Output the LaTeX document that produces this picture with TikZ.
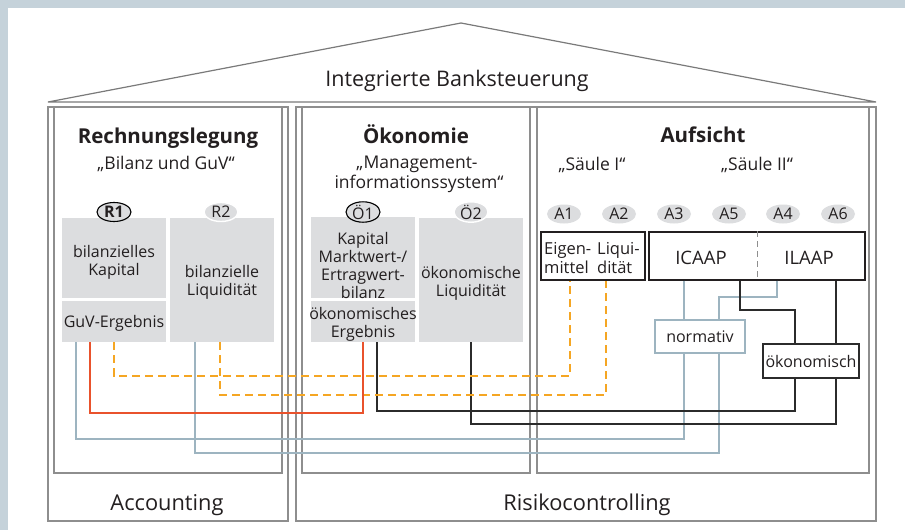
\documentclass[tikz,border=0pt]{standalone}
\usepackage{fontspec}
\setmainfont{Open Sans}
\usetikzlibrary{shapes.geometric}

\definecolor{bandblue}{HTML}{C5D2DA}
\definecolor{framegray}{HTML}{8E8E8E}
\definecolor{roofgray}{HTML}{7A7A7A}
\definecolor{boxgray}{HTML}{DCDDDF}
\definecolor{ink}{HTML}{231F20}
\definecolor{wireblue}{HTML}{9DB4C0}
\definecolor{wirered}{HTML}{E9522C}
\definecolor{wireorange}{HTML}{F5A623}
\definecolor{wireblack}{HTML}{2B2B2B}

\tikzset{
  frame/.style={draw=framegray, line width=1.3pt, minimum width=#1, inner sep=0pt},
  graybox/.style={fill=boxgray, minimum width=104pt, inner sep=0pt},
  boxtext/.style={text=ink, inner sep=0pt, align=center, font=\fontsize{16}{18}\selectfont},
  tag/.style={ellipse, fill=boxgray, minimum width=34pt, minimum height=19pt,
    inner sep=0pt, text=ink, font=\fontsize{16}{18}\selectfont},
  tagmark/.style={tag, draw=black, line width=1.1pt},
  tagplain/.style={tag, draw=white, line width=1.4pt},
  pillarbox/.style={draw=ink, line width=1.1pt, inner sep=0pt, minimum height=48pt},
  label/.style={text=ink, inner sep=0pt, font=\fontsize{16.5}{19}\selectfont},
  head/.style={text=ink, inner sep=0pt, anchor=base, font=\bfseries\fontsize{20.5}{22}\selectfont},
  sub/.style={text=ink, inner sep=0pt, anchor=base, align=center, font=\fontsize{17.5}{20}\selectfont},
  big/.style={text=ink, inner sep=0pt, anchor=base, font=\fontsize{21.8}{24}\selectfont},
  wblue/.style={draw=wireblue, line width=1.2pt},
  wblack/.style={draw=wireblack, line width=1.2pt},
  wred/.style={draw=wirered, line width=2.8pt},
  worange/.style={draw=wireorange, line width=1.5pt, dash pattern=on 8pt off 5pt},
}

\begin{document}
\begin{tikzpicture}[x=1pt, y=-1pt]
\useasboundingbox (0,0) rectangle (905,530);
\fill[bandblue] (0,0) rectangle (905,530);
\fill[white] (8,8) rectangle (905,530);

% roof
\coordinate (apex) at (461,23);
\coordinate (eaveL) at (48,102);
\coordinate (eaveR) at (876,102);
\draw[draw=roofgray, line width=1.2pt, line join=miter] (eaveL) -- (apex) -- (eaveR) -- cycle;
\node[big, font=\fontsize{21.5}{24}\selectfont] (title) at (457,86) {Integrierte Banksteuerung};

% outer and inner frames
\node[frame=240pt, minimum height=414pt] (accounting) at (168,314) {};
\node[frame=580pt, minimum height=414pt] (risiko) at (586,314) {};
\node[frame=228pt, minimum height=366pt] (rech) at (168,290) {};
\node[frame=228pt, minimum height=366pt] (oeko) at (416,290) {};
\node[frame=332pt, minimum height=366pt] (aufs) at (703,290) {};

\node[big] (acclabel) at (167,510) {Accounting};
\node[big] (risklabel) at (587,510) {Risikocontrolling};

% column headings
\node[head] (h1) at (168,143) {Rechnungslegung};
\node[sub] (s1) at (166,169) {„Bilanz und GuV“};
\node[head] (h2) at (416,143) {Ökonomie};
\node[sub] (s2a) at (417,168) {„Management-};
\node[sub] (s2b) at (419,188) {informationssystem“};
\node[head] (h3) at (703,142) {Aufsicht};
\node[sub] (s3a) at (592,170) {„Säule I“};
\node[sub] (s3b) at (757,170) {„Säule II“};

% accounting boxes
\node[graybox, minimum height=80pt] (r1) at (114,258) {};
\node[graybox, minimum height=41pt] (guv) at (114,321.5) {};
\node[graybox, minimum height=124pt] (r2) at (222,280) {};
\node[boxtext] (r1text) at (r1.center |- 0,262) {bilanzielles\\Kapital};
\node[boxtext] (guvtext) at (guv.center |- 0,323) {GuV-Ergebnis};
\node[boxtext] (r2text) at (r2.center |- 0,282) {bilanzielle\\Liquidität};
\node[tagmark, font=\bfseries\fontsize{16}{18}\selectfont] (tr1) at (114,212) {R1};
\node[tagplain] (tr2) at (221,212) {R2};

% economic boxes
\node[graybox, minimum height=81pt] (o1) at (363,257.5) {};
\node[graybox, minimum height=41pt] (oerg) at (363,321.5) {};
\node[graybox, minimum height=124pt] (o2) at (471,280) {};
\node[boxtext] (o1text) at (o1.center |- 0,265) {Kapital\\Marktwert-/\\Ertragwert-\\bilanz};
\node[boxtext] (oergtext) at (oerg.center |- 0,324) {ökonomisches\\Ergebnis};
\node[boxtext] (o2text) at (o2.center |- 0,283) {ökonomische\\Liquidität};
\node[tagmark] (to1) at (363,212) {Ö1};
\node[tagplain] (to2) at (471,212) {Ö2};

% supervisory tags
\node[tag] (ta1) at (564,214) {A1};
\node[tag] (ta2) at (619,214) {A2};
\node[tag] (ta3) at (674,214) {A3};
\node[tag] (ta5) at (729,214) {A5};
\node[tag] (ta4) at (783,214) {A4};
\node[tag] (ta6) at (838,214) {A6};

% pillar I and pillar II boxes
\node[pillarbox, minimum width=104pt] (eig) at (593,256) {};
\node[label, align=left, anchor=west] (eigtext) at (544,258) {Eigen-\\mittel};
\node[label, align=left, anchor=west] (liqtext) at (597,258) {Liqui-\\dität};
\node[pillarbox, minimum width=216pt] (pillar) at (757,256) {};
\draw[draw=framegray, line width=1pt, dash pattern=on 6pt off 4pt]
  (pillar.north -| 757,0) -- (pillar.south -| 757,0);
\node[label, font=\fontsize{18.5}{20}\selectfont] (icaap) at (701,258) {ICAAP};
\node[label, font=\fontsize{18.5}{20}\selectfont] (ilaap) at (809,258) {ILAAP};

\node[draw=wireblue, line width=1.2pt, fill=white, minimum width=90pt, minimum height=33pt,
  inner sep=0pt, text=ink, font=\fontsize{16}{18}\selectfont] (normativ) at (700,336.5) {normativ};
\node[draw=wireblack, line width=1.2pt, fill=white, minimum width=96pt, minimum height=34pt,
  inner sep=0pt, text=ink, font=\fontsize{16}{18}\selectfont] (oekon) at (811,361) {ökonomisch};

% connectors
\draw[wblue] (guv.south -| 76,0) -- (76,439) -| (normativ.south -| 684,0);
\draw[wblue] (r2.south -| 195,0) -- (195,453) -| (normativ.south -| 719,0);
\draw[wblue] (pillar.south -| 684,0) -- (normativ.north -| 684,0);
\draw[wblue] (pillar.south -| 777,0) -- (777,297) -| (normativ.north -| 719,0);
\draw[wblack] (oerg.south -| 377,0) -- (377,411) -| (oekon.south -| 795,0);
\draw[wblack] (o2.south -| 471,0) -- (471,424) -| (oekon.south -| 836,0);
\draw[wblack] (pillar.south -| 740,0) -- (740,310) -| (oekon.north -| 795,0);
\draw[wblack] (pillar.south -| 836,0) -- (oekon.north -| 836,0);
\draw[worange] (guv.south -| 114,0) -- (114,376) -| (eig.south -| 570,0);
\draw[worange] (r2.south -| 220,0) -- (220,395) -| (eig.south -| 606,0);
\draw[wred] (guv.south -| 90,0) -- (90,413) -| (oerg.south -| 363,0);
\end{tikzpicture}
\end{document}
